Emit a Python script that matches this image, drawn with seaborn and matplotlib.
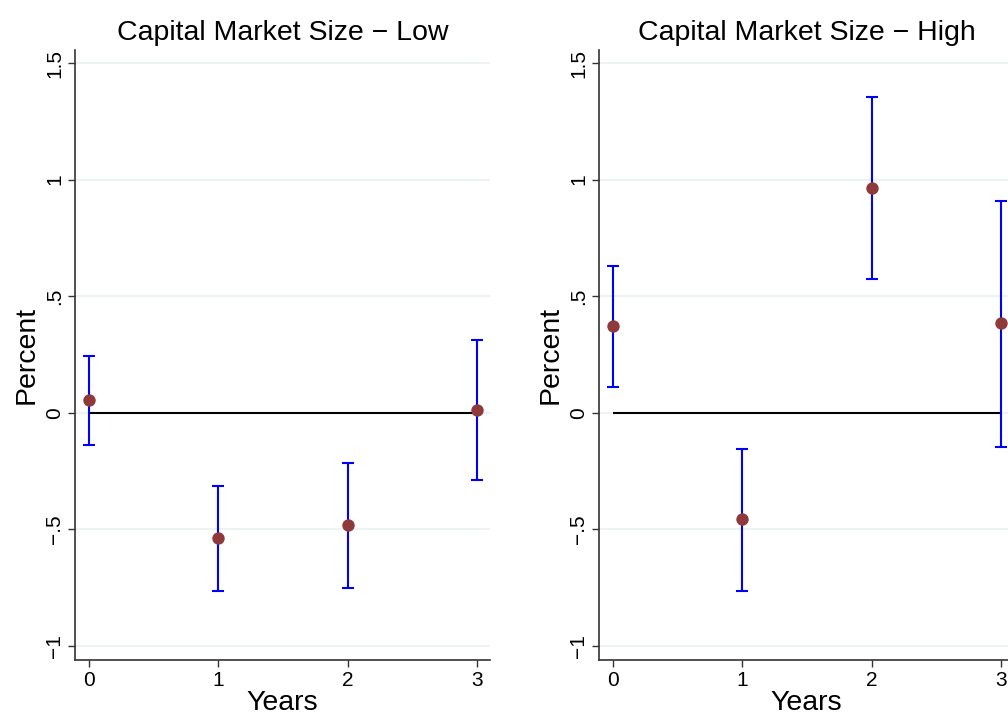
import numpy as np
import pandas as pd
import matplotlib
matplotlib.use("Agg")
import matplotlib.pyplot as plt
import seaborn as sns

years = [0, 1, 2, 3]
low_est = [0.055, -0.536, -0.48, 0.013]
low_lo = [-0.14, -0.764, -0.75, -0.29]
low_hi = [0.245, -0.313, -0.215, 0.313]
high_est = [0.373, -0.455, 0.966, 0.386]
high_lo = [0.11, -0.764, 0.575, -0.145]
high_hi = [0.63, -0.155, 1.353, 0.91]
titles = ["Capital Market Size \u2212 Low", "Capital Market Size \u2212 High"]
yticks = [-1, -0.5, 0, 0.5, 1, 1.5]
yticklabels = ["\u22121", "\u2212.5", "0", ".5", "1", "1.5"]

sns.set_theme(style="white")
plt.rcParams['font.family'] = ['Liberation Sans', 'DejaVu Sans']
plt.rcParams['text.color'] = 'black'
plt.rcParams['axes.labelcolor'] = 'black'
plt.rcParams['xtick.color'] = 'black'
plt.rcParams['ytick.color'] = 'black'

fig = plt.figure(figsize=(10.08, 7.17), dpi=100)
W = 415 / 1008
H = 610 / 717
B = 1 - 660 / 717
positions = [[75 / 1008, B, W, H], [599 / 1008, B, W, H]]

panels = [(low_est, low_lo, low_hi), (high_est, high_lo, high_hi)]
for i, (est, lo, hi) in enumerate(panels):
    ax = fig.add_axes(positions[i])
    df = pd.DataFrame({"Years": years, "est": est, "lo": lo, "hi": hi})
    for yt in yticks:
        ax.axhline(yt, color="#eaf0f2", lw=1.2, zorder=0)
    ax.hlines(0, 0, 3, color="black", lw=1.5, zorder=1)
    ax.errorbar(df["Years"], df["est"],
                yerr=[df["est"] - df["lo"], df["hi"] - df["est"]],
                fmt="none", ecolor="#0000ff", elinewidth=1.5, capsize=4,
                capthick=1.5, zorder=2)
    sns.scatterplot(data=df, x="Years", y="est", ax=ax, color="#8f3a3a",
                    s=80, edgecolor="#8f3a3a", linewidth=0, zorder=3)
    ax.set_xlim(-0.108, 3.1)
    ax.set_ylim(-1.06, 1.556)
    ax.set_xticks(years)
    ax.set_xticklabels([str(y) for y in years], fontsize=15)
    ax.set_yticks(yticks)
    ax.set_yticklabels(yticklabels, fontsize=15, rotation=90, va="center")
    ax.tick_params(axis="both", direction="out", length=5, width=1,
                   color="#333333", left=True, bottom=True, pad=3)
    ax.set_xlabel("Years", fontsize=20.5, labelpad=0)
    ax.set_ylabel("Percent", fontsize=20.5, labelpad=4)
    ax.set_title(titles[i], fontsize=20.5, pad=7)
    sns.despine(ax=ax)
    for s in ["left", "bottom"]:
        ax.spines[s].set_color("#333333")
        ax.spines[s].set_linewidth(1.2)

fig.savefig("out.png", dpi=100)
